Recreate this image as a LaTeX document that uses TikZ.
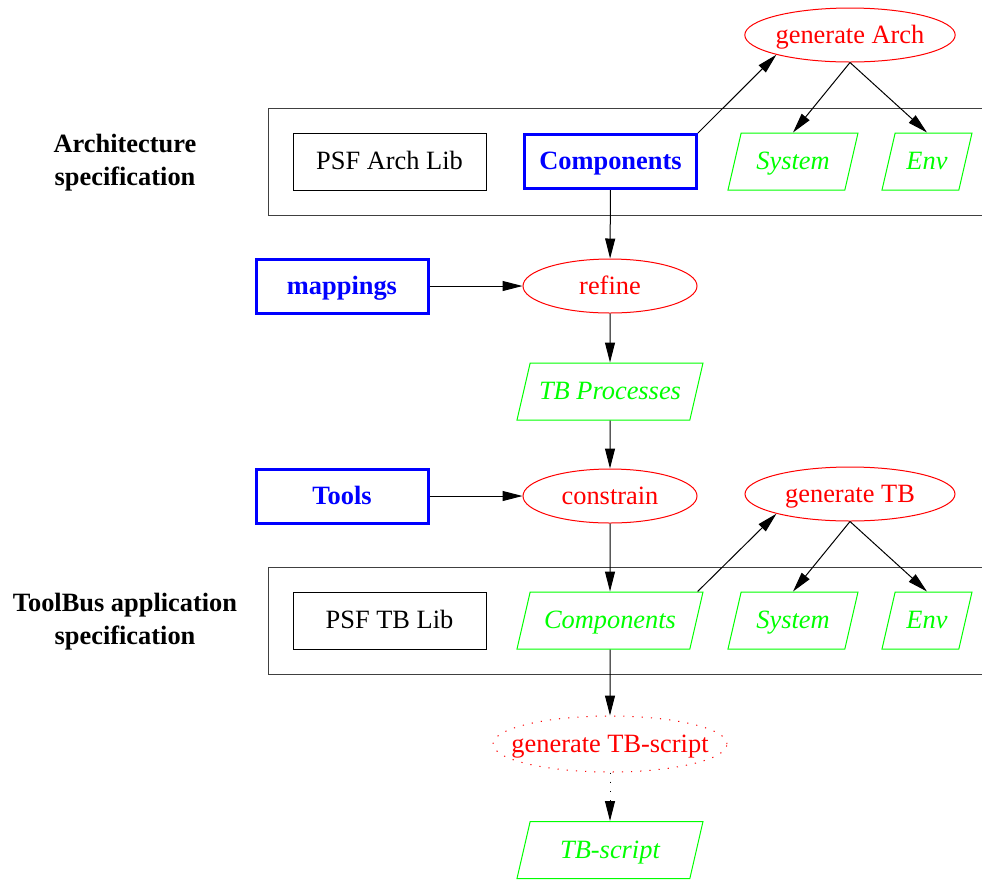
\documentclass[tikz,border=0pt]{standalone}
\usepackage{fontspec}
\setmainfont{Liberation Serif}
\usetikzlibrary{arrows.meta,shapes.geometric}

\tikzset{
  every node/.style={text height=10pt, text depth=2pt},
  lib/.style={draw, rectangle, inner sep=0pt, minimum width=96.5pt, minimum height=28.5pt},
  given/.style={draw=blue, line width=1.5pt, text=blue, font=\bfseries, rectangle, inner sep=0pt, minimum width=86pt, minimum height=27pt},
  action/.style={draw=red, text=red, ellipse, inner sep=0pt, minimum width=87pt, minimum height=27pt},
  result/.style={draw=green, text=green, font=\itshape, trapezium, trapezium left angle=77, trapezium right angle=103, trapezium stretches body, inner xsep=0pt, inner ysep=8.25pt, minimum height=28.5pt},
  layer/.style={draw=black!75},
  flow/.style={-{Triangle[length=10pt,width=5pt]}},
  dots/.style={dash pattern=on 0.6pt off 4pt},
}

\begin{document}
\fontsize{13.2}{16.5}\selectfont
\begin{tikzpicture}[x=0.5pt, y=-0.5pt, line width=0.5pt]
  %%%%% START %%%%%
  \useasboundingbox (0,0) rectangle (982,880);

  % architecture layer
  \draw[layer] (268,108) rectangle (986,215);
  \node[font=\bfseries, align=center, text height=, text depth=] (archlabel) at (125,163) {Architecture\\specification};
  \node[lib] (archlib) at (389.5,161.5) {PSF Arch Lib};
  \node[given] (archcomp) at (610.5,161.5) {Components};
  \node[result, minimum width=65pt] (archsys) at (793,161.5) {System};
  \node[result, minimum width=45pt] (archenv) at (927,161.5) {Env};
  \node[action, minimum width=105pt] (genarch) at (850,35) {generate Arch};

  \node[given] (mappings) at (342,286) {mappings};
  \node[action] (refine) at (610,286) {refine};
  \node[result, minimum width=93pt] (tbproc) at (610,391.5) {TB Processes};
  \node[given] (tools) at (342,496) {Tools};
  \node[action] (constrain) at (610,496) {constrain};
  \node[action, minimum width=105pt] (gentb) at (850,494) {generate TB};

  % toolbus layer
  \draw[layer] (268,567) rectangle (986,674);
  \node[font=\bfseries, align=center, text height=, text depth=] (tblabel) at (125,622) {ToolBus application\\specification};
  \node[lib] (tblib) at (389.5,620.5) {PSF TB Lib};
  \node[result, minimum width=93pt] (tbcomp) at (610,620.5) {Components};
  \node[result, minimum width=65pt] (tbsys) at (793,620.5) {System};
  \node[result, minimum width=45pt] (tbenv) at (927,620.5) {Env};

  \node[action, dots, inner xsep=-8pt, minimum width=117pt, minimum height=28pt] (genscript) at (610,744) {generate TB-script};
  \node[result, minimum width=93pt] (tbscript) at (610,850) {TB-script};

  % connectors
  \draw[flow] (archcomp.north east) -- (genarch.195);
  \draw[flow] (genarch.south) -- (archsys.north);
  \draw[flow] (genarch.south) -- (archenv.north);
  \draw[flow] (archcomp) -- (refine);
  \draw[flow] (mappings) -- (refine);
  \draw[flow] (refine) -- (tbproc);
  \draw[flow] (tbproc) -- (constrain);
  \draw[flow] (tools) -- (constrain);
  \draw[flow] (constrain) -- (tbcomp);
  \draw[flow] ([xshift=-3pt]tbcomp.top right corner) -- (gentb.195);
  \draw[flow] (gentb.south) -- (tbsys.north);
  \draw[flow] (gentb.south) -- (tbenv.north);
  \draw[flow] (tbcomp) -- (genscript);
  \draw[flow, dots] (genscript) -- (tbscript);
  %%%%% END %%%%%
\end{tikzpicture}
\end{document}
